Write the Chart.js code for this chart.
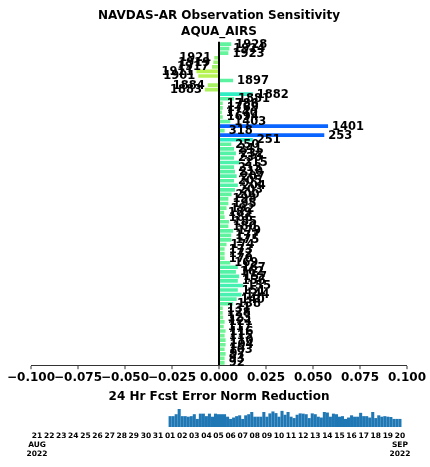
<!DOCTYPE html>
<html>
<head>
<meta charset="utf-8">
<script src="https://cdn.jsdelivr.net/npm/chart.js@4/dist/chart.umd.min.js"></script>
<style>
  html, body { margin: 0; padding: 0; background: #fff; }
  #wrap { position: relative; width: 430px; height: 467px; }
  canvas { position: absolute; left: 0; }
</style>
</head>
<body>
<div id="wrap">
  <canvas id="sens" width="430" height="410" style="top:0px"></canvas>
  <canvas id="cycles" width="430" height="67" style="top:400px"></canvas>
</div>
<script>
// AIRS channels, listed top to bottom
const channels = [
  '1928', '1924', '1923', '1921', '1919', '1917', '1911', '1901', '1897', '1884',
  '1883', '1882', '1881', '1786', '1769', '1740', '1694', '1403', '1401', '318',
  '253', '251', '250', '241', '232', '230', '215', '213', '210', '207',
  '205', '204', '203', '200', '198', '195', '192', '189', '186', '185',
  '180', '179', '177', '175', '174', '173', '172', '170', '169', '167',
  '162', '157', '156', '155', '151', '144', '140', '138', '131', '128',
  '123', '121', '117', '116', '115', '110', '104', '103', '97', '93',
  '92'
];

// 24 h forecast error norm reduction per channel
const sensitivity = [
  0.0065, 0.0055, 0.005, -0.0025, -0.003, -0.0037, -0.012, -0.011, 0.0075, -0.006,
  -0.0075, 0.018, 0.008, 0.002, 0.002, 0.0015, 0.002, 0.006, 0.058, 0.003,
  0.056, 0.018, 0.0065, 0.008, 0.009, 0.008, 0.011, 0.008, 0.0085, 0.0094,
  0.008, 0.01, 0.0085, 0.0067, 0.005, 0.005, 0.004, 0.0027, 0.003, 0.0053,
  0.005, 0.0075, 0.0065, 0.0065, 0.004, 0.003, 0.003, 0.003, 0.006, 0.01,
  0.009, 0.0107, 0.01, 0.0128, 0.01, 0.012, 0.0094, 0.0075, 0.002, 0.002,
  0.0022, 0.003, 0.0025, 0.0035, 0.003, 0.0035, 0.0035, 0.003, 0.0035, 0.003,
  0.003
];

// x-axis ticks of the sensitivity panel
const sensTicks = [-0.1, -0.075, -0.05, -0.025, 0, 0.025, 0.05, 0.075, 0.1];

// day ticks of the assimilation-cycle panel (21 Aug .. 20 Sep 2022)
const dayLabels = [
  '21', '22', '23', '24', '25', '26', '27', '28', '29', '30', '31',
  '01', '02', '03', '04', '05', '06', '07', '08', '09', '10',
  '11', '12', '13', '14', '15', '16', '17', '18', '19', '20'
];
const firstMonth = ['AUG', '2022'];
const lastMonth = ['SEP', '2022'];

// observation counts per 6-hourly cycle, starting 01 Sep 00Z
const firstCycleDay = 11;      // days after 21 Aug
const cycleStepDays = 0.25;    // 6-hourly cycles
const cycleCounts = [
  3800, 3800, 4500, 6500, 3800, 3800, 3600, 3800, 4500, 2800,
  4700, 4700, 3800, 4700, 3600, 4700, 4500, 4500, 4500, 3600,
  2800, 3300, 3800, 4100, 2800, 4100, 4500, 5300, 3600, 3600,
  3600, 5300, 3600, 4800, 5500, 4900, 3600, 5700, 4300, 5300,
  3600, 3100, 4300, 4800, 4700, 4500, 3100, 4800, 4500, 3600,
  3300, 5300, 5100, 3600, 4700, 4500, 3600, 3800, 2800, 3300,
  4100, 3600, 3600, 5000, 3800, 3800, 3300, 5300, 3100, 4100,
  3600, 3800, 3600, 3500, 2800, 2800, 2800
];

const FONT = "'DejaVu Sans', sans-serif";
Chart.defaults.font.family = FONT;
Chart.defaults.color = '#000';

// colour ramp: negative -> yellow-green, small positive -> green/mint, large -> blue
const colorStops = [
  [-0.012, [184, 242, 80]],
  [-0.004, [160, 242, 104]],
  [0.0,    [128, 244, 136]],
  [0.005,  [102, 244, 156]],
  [0.01,   [80, 242, 168]],
  [0.018,  [48, 238, 196]],
  [0.030,  [20, 190, 230]],
  [0.054,  [10, 100, 255]]
];
function barColor(v) {
  if (v <= colorStops[0][0]) return 'rgb(' + colorStops[0][1].join(',') + ')';
  for (let i = 1; i < colorStops.length; i++) {
    const [v1, c1] = colorStops[i];
    const [v0, c0] = colorStops[i - 1];
    if (v <= v1) {
      const t = (v - v0) / (v1 - v0);
      const c = c0.map((a, k) => Math.round(a + (c1[k] - a) * t));
      return 'rgb(' + c.join(',') + ')';
    }
  }
  return 'rgb(' + colorStops[colorStops.length - 1][1].join(',') + ')';
}

// channel number written at the end of each bar
const channelLabels = {
  id: 'channelLabels',
  afterDatasetsDraw(chart) {
    const ctx = chart.ctx;
    const meta = chart.getDatasetMeta(0);
    ctx.save();
    ctx.font = 'bold 11.5px ' + FONT;
    ctx.fillStyle = '#000';
    ctx.textBaseline = 'middle';
    meta.data.forEach((bar, i) => {
      const p = bar.getProps(['x', 'y'], true);
      if (sensitivity[i] >= 0) {
        ctx.textAlign = 'left';
        ctx.fillText(channels[i], p.x + 4, p.y + 0.5);
      } else {
        ctx.textAlign = 'right';
        ctx.fillText(channels[i], p.x - 3, p.y + 0.5);
      }
    });
    ctx.restore();
  }
};

const isZero = v => Math.abs(v) < 1e-9;

new Chart(document.getElementById('sens'), {
  type: 'bar',
  data: {
    labels: channels,
    datasets: [{
      data: sensitivity,
      backgroundColor: sensitivity.map(barColor),
      barPercentage: 0.8,
      categoryPercentage: 1.0
    }]
  },
  options: {
    indexAxis: 'y',
    responsive: false,
    animation: false,
    devicePixelRatio: 1,
    layout: { padding: { left: 31, right: 23, top: 0, bottom: 4 } },
    plugins: {
      legend: { display: false },
      tooltip: { enabled: false },
      title: {
        display: true,
        text: 'NAVDAS-AR Observation Sensitivity',
        color: '#000',
        font: { size: 12, weight: 'bold' },
        padding: { top: 9, bottom: 1 }
      },
      subtitle: {
        display: true,
        text: 'AQUA_AIRS',
        color: '#000',
        font: { size: 12, weight: 'bold' },
        padding: { top: 0, bottom: 3 }
      }
    },
    scales: {
      x: {
        type: 'linear',
        min: sensTicks[0],
        max: sensTicks[sensTicks.length - 1],
        afterBuildTicks: axis => { axis.ticks = sensTicks.map(v => ({ value: v })); },
        ticks: {
          color: '#000',
          font: { size: 12, weight: 'bold' },
          padding: 1,
          maxRotation: 0,
          autoSkip: false,
          callback: v => (v < 0 ? '\u2212' : '') + Math.abs(v).toFixed(3)
        },
        grid: {
          drawOnChartArea: true,
          color: c => (c.tick && isZero(c.tick.value)) ? '#000' : 'rgba(0,0,0,0)',
          lineWidth: c => (c.tick && isZero(c.tick.value)) ? 2 : 0,
          tickColor: '#333',
          tickWidth: 1,
          tickLength: 4
        },
        border: { display: true, color: '#333', width: 1 },
        title: {
          display: true,
          text: '24 Hr Fcst Error Norm Reduction',
          color: '#000',
          font: { size: 12, weight: 'bold' },
          padding: { top: 4, bottom: 2 }
        }
      },
      y: { display: false }
    }
  },
  plugins: [channelLabels]
});

// month / year lines under the first and last day ticks
const monthLabels = {
  id: 'monthLabels',
  afterDraw(chart) {
    const ctx = chart.ctx;
    const xs = chart.scales.x;
    const base = chart.chartArea.bottom;
    ctx.save();
    ctx.font = 'bold 7.5px ' + FONT;
    ctx.fillStyle = '#000';
    ctx.textAlign = 'center';
    ctx.textBaseline = 'middle';
    [[0, firstMonth], [dayLabels.length - 1, lastMonth]].forEach(([idx, lines]) => {
      const x = xs.getPixelForValue(idx);
      lines.forEach((t, k) => ctx.fillText(t, x, base + 18.5 + k * 9));
    });
    ctx.restore();
  }
};

const cyclePoints = cycleCounts.map((c, i) => ({ x: firstCycleDay + i * cycleStepDays, y: c }));

new Chart(document.getElementById('cycles'), {
  type: 'bar',
  data: {
    datasets: [{
      data: cyclePoints,
      backgroundColor: '#1f77b4',
      barThickness: 2.4
    }]
  },
  options: {
    responsive: false,
    animation: false,
    devicePixelRatio: 1,
    layout: { padding: { left: 31, right: 24, top: 9, bottom: 22 } },
    plugins: { legend: { display: false }, tooltip: { enabled: false } },
    scales: {
      x: {
        type: 'linear',
        min: 0,
        max: dayLabels.length - 1,
        afterBuildTicks: axis => { axis.ticks = dayLabels.map((d, i) => ({ value: i })); },
        ticks: {
          autoSkip: false,
          maxRotation: 0,
          padding: 5,
          color: '#000',
          font: { size: 7.5, weight: 'bold' },
          callback: (v, i) => dayLabels[i]
        },
        grid: { display: false, drawTicks: false },
        border: { display: false }
      },
      y: { display: false, min: 0, max: 6500 }
    }
  },
  plugins: [monthLabels]
});
</script>
</body>
</html>
